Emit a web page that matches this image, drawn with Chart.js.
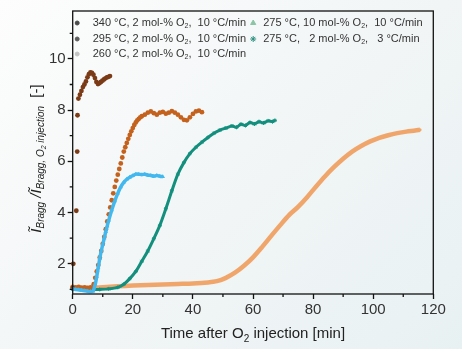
<!DOCTYPE html>
<html>
<head>
<meta charset="utf-8">
<script src="https://cdn.jsdelivr.net/npm/chart.js@4.4.1/dist/chart.umd.min.js"></script>
<style>
  html, body { margin: 0; padding: 0; }
  body { width: 462px; height: 349px; overflow: hidden;
         background: linear-gradient(135deg, #fdfdfd 0%, #f1f5f6 55%, #e8f1f2 100%); }
  canvas { display: block; }
</style>
</head>
<body>
<canvas id="chart" width="462" height="349"></canvas>
<script>
// series labels (legend, two columns)
const seriesLabels = [
    "340 °C, 2 mol-% O₂,  10 °C/min",
    "295 °C, 2 mol-% O₂,  10 °C/min",
    "260 °C, 2 mol-% O₂,  10 °C/min",
    "275 °C, 10 mol-% O₂,  10 °C/min",
    "275 °C,   2 mol-% O₂,   3 °C/min",
];

// 340 °C
const t340 = [0, 0.2, 1.2, 1.5, 1.6, 1.9, 2.4, 2.9, 3.4, 3.9, 4.4, 4.9, 5.4, 5.9, 6.4, 6.9, 7.4, 7.9, 8.4, 8.9, 9.4, 9.9, 10.4, 10.9, 11.4, 11.9, 12.4];
const v340 = [1.05, 2.0, 4.07, 6.38, 7.8, 8.45, 8.6, 8.75, 8.9, 9.0, 9.12, 9.28, 9.4, 9.47, 9.45, 9.38, 9.25, 9.1, 9.02, 9.05, 9.1, 9.15, 9.2, 9.24, 9.28, 9.3, 9.33];

// 295 °C
const t295 = [0, 1, 2, 3, 4, 5, 6, 7, 7.5, 8, 8.5, 9, 9.5, 10, 10.5, 11, 11.5, 12, 12.5, 13, 13.5, 14, 14.5, 15, 15.5, 16, 16.5, 17, 17.5, 18, 18.5, 19, 19.5, 20, 20.5, 21, 21.5, 22, 22.5, 23,
              24, 25, 26, 27, 28, 29, 30, 31, 32, 33, 34, 35, 36, 37, 38, 39, 40, 41, 42, 43];
const v295 = [1.1, 1.08, 1.1, 1.07, 1.08, 1.06, 1.08, 1.2, 1.45, 1.7, 1.95, 2.25, 2.5, 2.78, 3.05, 3.35, 3.65, 3.93, 4.2, 4.48, 4.75, 5.0, 5.25, 5.48, 5.7, 5.92, 6.15, 6.38, 6.55, 6.72, 6.88, 7.03, 7.17, 7.3, 7.42, 7.52, 7.6, 7.66, 7.72, 7.76,
              7.82, 7.9, 7.95, 7.88, 7.82, 7.9, 7.93, 7.86, 7.9, 7.96, 7.9, 7.82, 7.72, 7.62, 7.6, 7.72, 7.85, 7.95, 7.98, 7.92];

// 260 °C
const t260 = [0, 5, 10, 15, 20, 25, 30, 35, 40, 45, 48, 51, 54, 57, 60, 63, 66, 69, 72, 75, 78, 81, 84, 87, 90, 93, 96, 99, 102, 105, 108, 111, 114, 115.6];
const v260 = [1.03, 1.05, 1.08, 1.12, 1.15, 1.17, 1.19, 1.21, 1.23, 1.27, 1.32, 1.45, 1.65, 1.92, 2.25, 2.65, 3.08, 3.5, 3.9, 4.22, 4.6, 5.02, 5.42, 5.78, 6.1, 6.38, 6.6, 6.78, 6.92, 7.02, 7.1, 7.16, 7.2, 7.23];

// 275 °C, 10 mol-% O2
const t275a = [0, 1, 2, 3, 4, 5, 6, 6.8, 7.5, 8, 8.5, 9, 9.5, 10, 10.5, 11, 11.5, 12, 13, 14, 15, 16, 17, 18, 19, 20, 21, 22, 23, 24, 25, 26, 27, 28, 29, 30];
const v275a = [1.02, 1.0, 0.99, 0.97, 0.95, 0.93, 0.92, 0.93, 1.2, 1.5, 1.85, 2.2, 2.5, 2.75, 3.0, 3.25, 3.48, 3.7, 4.1, 4.45, 4.75, 5.0, 5.18, 5.3, 5.38, 5.44, 5.5, 5.5, 5.48, 5.5, 5.46, 5.45, 5.42, 5.45, 5.42, 5.4];

// 275 °C, 3 °C/min
const t275b = [0, 3, 6, 9, 12, 15, 17, 19, 21, 23, 25, 27, 29, 31, 33, 35, 37, 39, 41, 43, 45, 47, 49, 51, 53, 54.5, 56, 57.5, 59, 60.5, 62, 63.5, 65, 66.5, 67.3];
const v275b = [1.0, 0.98, 0.99, 1.0, 1.02, 1.08, 1.2, 1.42, 1.7, 2.1, 2.5, 2.98, 3.5, 4.15, 4.85, 5.5, 5.95, 6.3, 6.55, 6.75, 6.93, 7.1, 7.22, 7.3, 7.38, 7.33, 7.45, 7.4, 7.52, 7.46, 7.55, 7.5, 7.58, 7.55, 7.6];

// axes
const xTicks = [0, 20, 40, 60, 80, 100, 120];
const xMinor = [10, 30, 50, 70, 90, 110];
const yTicks = [2, 4, 6, 8, 10];
const yMinor = [1, 3, 5, 7, 9, 11];

const FONT = "'Liberation Sans', Arial, sans-serif";
const colors = ["#7b3b16", "#c4621d", "#f0a66b", "#43b8ee", "#138f7e"];
const legendColors = ["#4a4a4a", "#5c5c5c", "#c2c2c2", "#8cc4a6", "#2b8f7e"];
const legendStyles = ["circle", "circle", "circle", "triangle", "star"];

function pts(t, v) {
    return t.map((x, i) => ({ x: x, y: v[i] }));
}

// draw a string, rendering "₂" as a lowered small 2
function drawSubText(ctx, str, x, y, size, style) {
    const parts = str.split("₂");
    let cx = x;
    parts.forEach((p, i) => {
        ctx.font = (style || "") + " " + size + "px " + FONT;
        ctx.fillText(p, cx, y);
        cx += ctx.measureText(p).width;
        if (i < parts.length - 1) {
            const s = Math.round(size * 0.68);
            ctx.font = (style || "") + " " + s + "px " + FONT;
            ctx.fillText("2", cx, y + size * 0.28);
            cx += ctx.measureText("2").width;
        }
    });
    return cx - x;
}

// runs: [text, size, style, dy]
function runsWidth(ctx, runs) {
    let w = 0;
    runs.forEach(r => { ctx.font = r[2] + " " + r[1] + "px " + FONT; w += ctx.measureText(r[0]).width; });
    return w;
}
function drawRuns(ctx, runs, x, y) {
    let cx = x;
    runs.forEach(r => {
        ctx.font = r[2] + " " + r[1] + "px " + FONT;
        ctx.fillText(r[0], cx, y + r[3]);
        cx += ctx.measureText(r[0]).width;
    });
}

const decor = {
    id: "decor",
    afterDraw(chart) {
        const ctx = chart.ctx;
        const a = chart.chartArea;
        const xs = chart.scales.x, ys = chart.scales.y;
        ctx.save();
        // frame
        ctx.strokeStyle = "#111";
        ctx.lineWidth = 1.3;
        ctx.strokeRect(a.left, a.top, a.right - a.left, a.bottom - a.top);
        // minor ticks
        ctx.beginPath();
        xMinor.forEach(v => {
            const px = xs.getPixelForValue(v);
            ctx.moveTo(px, a.bottom); ctx.lineTo(px, a.bottom + 3);
        });
        yMinor.forEach(v => {
            const py = ys.getPixelForValue(v);
            ctx.moveTo(a.left, py); ctx.lineTo(a.left - 3, py);
        });
        ctx.stroke();

        // legend
        ctx.textBaseline = "middle";
        ctx.fillStyle = "#333";
        const rows = [a.top + 12, a.top + 28, a.top + 43];
        const cols = [{ m: a.left + 4.5, t: a.left + 20 }, { m: a.left + 180.5, t: a.left + 190.5 }];
        seriesLabels.forEach((lab, i) => {
            const c = cols[i < 3 ? 0 : 1];
            const y = rows[i < 3 ? i : i - 3];
            ctx.fillStyle = legendColors[i];
            ctx.strokeStyle = legendColors[i];
            ctx.lineWidth = 1;
            Chart.helpers.drawPoint(ctx, { pointStyle: legendStyles[i], radius: legendStyles[i] === "circle" ? 2 : 3, rotation: 0, borderWidth: 1 }, c.m, y);
            ctx.fillStyle = "#333";
            drawSubText(ctx, lab, c.t, y, 11, "");
        });

        // x title
        ctx.fillStyle = "#222";
        ctx.textBaseline = "alphabetic";
        const xt = "Time after O₂ injection [min]";
        ctx.font = "15px " + FONT;
        const xparts = xt.split("₂");
        let w = ctx.measureText(xparts[0] + xparts[1]).width;
        ctx.font = "10px " + FONT;
        w += ctx.measureText("2").width;
        drawSubText(ctx, xt, (a.left + a.right) / 2 - w / 2, 338, 15, "");

        // y title
        const yRuns = [
            ["Ĩ", 15, "italic", 0],
            ["Bragg", 10, "italic", 3],
            [" /", 15, "italic", 0],
            ["Ĩ", 15, "italic", 0],
            ["Bragg", 10, "italic", 3],
            [", O", 10, "italic", 3],
            ["2", 7, "italic", 5],
            [" injection", 10, "italic", 3],
            ["  [-]", 15, "", 0],
        ];
        ctx.translate(41, (a.top + a.bottom) / 2 + 6);
        ctx.rotate(-Math.PI / 2);
        const yw = runsWidth(ctx, yRuns);
        drawRuns(ctx, yRuns, -yw / 2, 0);
        ctx.restore();
    }
};

const dsBase = { clip: 4, pointBorderWidth: 0, pointHoverRadius: 0 };

new Chart(document.getElementById("chart"), {
    type: "scatter",
    data: {
        datasets: [
            Object.assign({}, dsBase, { label: seriesLabels[0], data: pts(t340, v340), order: 1,
                backgroundColor: colors[0], borderColor: colors[0], pointRadius: 2.4, showLine: false }),
            Object.assign({}, dsBase, { label: seriesLabels[1], data: pts(t295, v295), order: 2,
                backgroundColor: colors[1], borderColor: colors[1], pointRadius: 2.4, showLine: false }),
            Object.assign({}, dsBase, { label: seriesLabels[2], data: pts(t260, v260), order: 4,
                backgroundColor: colors[2], borderColor: colors[2], pointRadius: 1.5, showLine: true, borderWidth: 4.5, tension: 0.3 }),
            Object.assign({}, dsBase, { label: seriesLabels[3], data: pts(t275a, v275a), order: 0,
                backgroundColor: colors[3], borderColor: colors[3], pointStyle: "triangle", pointRadius: 2.5, showLine: true, borderWidth: 3.5, tension: 0.2 }),
            Object.assign({}, dsBase, { label: seriesLabels[4], data: pts(t275b, v275b), order: 3,
                backgroundColor: colors[4], borderColor: colors[4], pointStyle: "star", pointRadius: 2, pointBorderWidth: 1, showLine: true, borderWidth: 3, tension: 0.3 }),
        ]
    },
    options: {
        responsive: false,
        animation: false,
        events: [],
        layout: { padding: { left: 0, right: 28.7, top: 4, bottom: 0 } },
        plugins: { legend: { display: false }, tooltip: { enabled: false } },
        scales: {
            x: {
                type: "linear", min: 0, max: 120,
                afterFit: s => { s.height = 55; },
                afterBuildTicks: s => { s.ticks = xTicks.map(v => ({ value: v })); },
                grid: { drawOnChartArea: false, drawTicks: true, tickLength: 5, tickColor: "#111", tickWidth: 1.3 },
                border: { display: false },
                ticks: { color: "#333", padding: 2, maxRotation: 0, font: { family: FONT, size: 15 } }
            },
            y: {
                type: "linear", min: 0.82, max: 11.87,
                afterFit: s => { s.width = 72.7; },
                afterBuildTicks: s => { s.ticks = yTicks.map(v => ({ value: v })); },
                grid: { drawOnChartArea: false, drawTicks: true, tickLength: 5, tickColor: "#111", tickWidth: 1.3 },
                border: { display: false },
                ticks: { color: "#333", padding: 2, font: { family: FONT, size: 15 } }
            }
        }
    },
    plugins: [decor]
});
</script>
</body>
</html>
